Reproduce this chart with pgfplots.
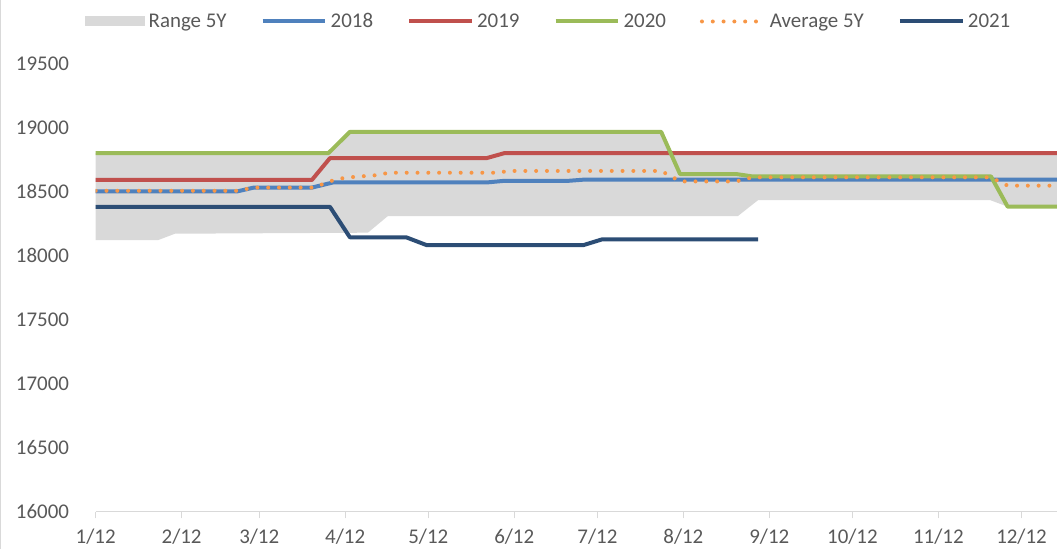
\documentclass[border=0pt]{standalone}
\usepackage{pgfplots}
\pgfplotsset{compat=1.18}
\usepgfplotslibrary{fillbetween}
\usepackage{fontspec}
\setmainfont{Carlito}
\definecolor{c18}{HTML}{4F81BD}
\definecolor{c19}{HTML}{C0504D}
\definecolor{c20}{HTML}{9BBB59}
\definecolor{cavg}{HTML}{F79646}
\definecolor{c21}{HTML}{2C4D75}
\definecolor{crange}{HTML}{D9D9D9}
\definecolor{ctext}{HTML}{595959}
\definecolor{caxis}{HTML}{D9D9D9}
\begin{document}
\begin{tikzpicture}
\begin{axis}[name=ax, scale only axis, width=720.975pt, height=383.775pt,
  xmin=0, xmax=346.8, ymin=16000, ymax=19994.5,
  xtick={0,31,59,90,120,151,181,212,243,273,304,334},
  xticklabels={1/12,2/12,3/12,4/12,5/12,6/12,7/12,8/12,9/12,10/12,11/12,12/12},
  ytick={16000,16500,...,19500},
  scaled y ticks=false,
  yticklabel={\pgfmathprintnumber[fixed,precision=0,1000 sep={}]{\tick}},
  /pgf/number format/assume math mode=true,
  /pgf/number format/1000 sep={},
  axis x line*=bottom, axis y line*=left,
  x axis line style={draw=caxis, line width=0.9pt, -},
  y axis line style={draw=none},
  ytick style={draw=none},
  xtick style={draw=caxis, line width=0.9pt},
  tick align=outside, major tick length=5pt,
  ticklabel style={font=\fontsize{15.7}{18}\selectfont, text=ctext},
  yticklabel style={anchor=east, inner sep=0pt, xshift=-14.8pt},
  xticklabel style={anchor=base, inner sep=0pt, yshift=-19pt},
  legend columns=-1,
  legend style={draw=none, fill=none, inner sep=0pt, at={(-0.0111,0.958)}, anchor=west,
    font=\fontsize{15.7}{18}\selectfont, text=ctext,
    nodes={inner xsep=2.5pt, inner ysep=1pt},
    /tikz/every even column/.append style={column sep=23pt}},
  legend image code/.code={\draw[#1] (0pt,0pt) -- (47pt,0pt);},
  clip=true,
]
\addplot[name path=up, draw=none, forget plot] coordinates {
 (0,18800) (84,18800) (91.7,18965) (204,18965) (207.4,18800) (346.8,18800)};
\addplot[name path=lo, draw=none, forget plot] coordinates {
 (0,18120) (22.5,18120) (28.6,18170) (98.2,18178) (105.4,18308) (231.7,18308)
 (239,18433) (322.6,18433) (329,18381) (346.8,18381)};
\addplot[fill=crange, draw=none,
  legend image code/.code={\fill[crange] (0pt,-3.75pt) rectangle (45pt,3.75pt);}]
  fill between[of=up and lo];
\addlegendentry{Range 5Y}
\addplot[c18, line width=3pt, line join=round] coordinates {
 (0,18500) (51,18500) (57,18530) (78,18530) (85.6,18570) (141,18570) (147,18582)
 (170,18582) (176,18592) (346.8,18592)};
\addlegendentry{2018}
\addplot[c19, line width=3pt, line join=round] coordinates {
 (0,18590) (78,18590) (84.5,18760) (141,18760) (147.6,18800) (346.8,18800)};
\addlegendentry{2019}
\addplot[c20, line width=3pt, line join=round] coordinates {
 (0,18800) (84,18800) (91.7,18965) (204,18965) (210.8,18636) (231,18636) (237,18617)
 (323,18617) (329,18381) (346.8,18381)};
\addlegendentry{2020}
\addplot[cavg, line width=3pt, line cap=round, dash pattern=on 0pt off 8.1pt] coordinates {
 (0,18505) (51,18505) (57,18530) (78,18530) (83,18564) (86,18590) (90,18607) (94,18615)
 (102,18628) (105.6,18646) (145,18646) (149,18660) (204,18660) (211,18578) (231,18578)
 (237,18610) (323,18610) (329,18545) (346.8,18545)};
\addlegendentry{Average 5Y}
\addplot[c21, line width=3pt, line join=round] coordinates {
 (0,18380) (84.5,18380) (91.7,18142) (112,18142) (119.5,18080) (175.8,18080)
 (182.7,18126) (239,18126)};
\addlegendentry{2021}
\end{axis}
\draw[caxis, line width=0.75pt] ([xshift=-71.4pt,yshift=-27.975pt]ax.south west) -- ([xshift=-71.4pt]ax.north west);
\pgfresetboundingbox
\path[use as bounding box] ([xshift=-71.775pt,yshift=-27.975pt]ax.south west) rectangle (ax.north east);
\end{tikzpicture}
\end{document}
